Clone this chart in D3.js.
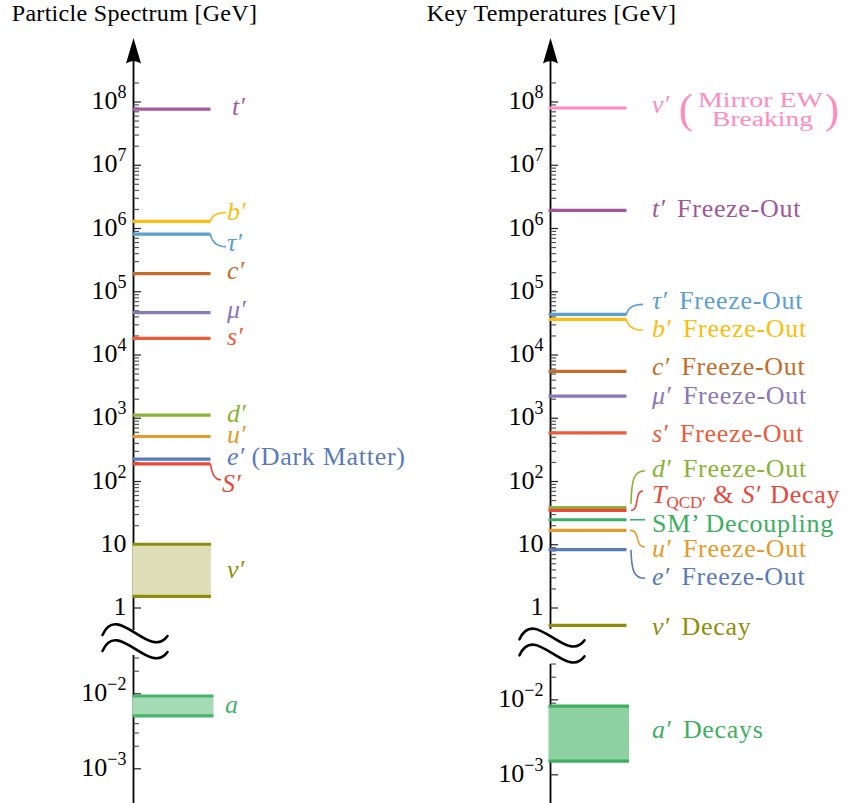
<!DOCTYPE html>
<html>
<head>
<meta charset="utf-8">
<script src="https://cdn.jsdelivr.net/npm/d3@7"></script>
<style>
  html, body { margin: 0; padding: 0; background: #fff; }
  svg { display: block; font-family: "Liberation Serif", "Times New Roman", serif; }
</style>
</head>
<body>
<svg id="chart" width="861" height="803"></svg>
<script>
// ---------------- data ----------------
// Mirror-sector particle spectrum, masses in GeV
const particleKeys   = ["t", "b", "tau", "c", "mu", "s", "d", "u", "e", "S"];
const particleMasses = [7.6e7, 1.27e6, 8.0e5, 1.9e5, 4.6e4, 1.8e4, 1.1e3, 505, 222, 187];
const nuMassRange    = [1.5, 10];        // ν′ mass band
const axionMassRange = [5.0e-3, 9.2e-3]; // a mass band

// Key temperatures in GeV
const eventKeys  = ["vEW", "tFO", "tauFO", "bFO", "cFO", "muFO", "sFO", "dFO", "qcd", "smDec", "uFO", "eFO", "nuDec"];
const eventTemps = [7.9e7, 1.9e6, 4.3e4, 3.6e4, 5.4e3, 2.2e3, 575, 37.8, 34.4, 24.4, 16.6, 8.2, 0.52];
const axionDecayRange = [1.5e-3, 8.1e-3]; // a′ decays band

// Tick labels (mantissa, exponent)
const upperDecades    = [1e8, 1e7, 1e6, 1e5, 1e4, 1e3, 1e2, 10, 1];
const upperTickLabels = [["10", "8"], ["10", "7"], ["10", "6"], ["10", "5"], ["10", "4"], ["10", "3"], ["10", "2"], ["10", ""], ["1", ""]];
const lowerDecades    = [1e-2, 1e-3];
const lowerTickLabels = [["10", "−2"], ["10", "−3"]];

// Label text: [text, style, dx]  (i = math italic, r = roman, sub = subscript)
const particleText = {
  t:   [["t′", "i"]],
  b:   [["b′", "i"]],
  tau: [["τ′", "i"]],
  c:   [["c′", "i"]],
  mu:  [["μ′", "i"]],
  s:   [["s′", "i"]],
  d:   [["d′", "i"]],
  u:   [["u′", "i"]],
  e:   [["e′", "i"], [" (Dark Matter)", "r", 0]],
  S:   [["S′", "i"]]
};
const eventText = {
  vEW:   [["v′", "i"]],
  tFO:   [["t′", "i"], [" Freeze-Out", "r", 5]],
  tauFO: [["τ′", "i"], [" Freeze-Out", "r", 5]],
  bFO:   [["b′", "i"], [" Freeze-Out", "r", 5]],
  cFO:   [["c′", "i"], [" Freeze-Out", "r", 5]],
  muFO:  [["μ′", "i"], [" Freeze-Out", "r", 5]],
  sFO:   [["s′", "i"], [" Freeze-Out", "r", 5]],
  dFO:   [["d′", "i"], [" Freeze-Out", "r", 5]],
  qcd:   [["T", "i"], ["QCD′", "sub", 0], [" & ", "r", 0], ["S′", "i"], [" Decay", "r", 3]],
  smDec: [["SM’ Decoupling", "r"]],
  uFO:   [["u′", "i"], [" Freeze-Out", "r", 5]],
  eFO:   [["e′", "i"], [" Freeze-Out", "r", 5]],
  nuDec: [["ν′", "i"], [" Decay", "r", 5]]
};

// ---------------- styles ----------------
const colors = {
  t: "#a35b9d", b: "#fcbe0c", tau: "#5b9ed0", c: "#c26e28", mu: "#8978b6",
  s: "#ec5b3a", d: "#8ab236", u: "#e69a2a", e: "#5a7bb8", S: "#e8483a",
  nu: "#8e8e0c", nuFill: "#dedfb9", a: "#48b36a", aFill: "#a5dbb4",
  vEW: "#ff8cbf", tFO: "#9e5797", tauFO: "#5b9ed0", bFO: "#fcbe0c", cFO: "#c26e28",
  muFO: "#8978b6", sFO: "#ec5b3a", dFO: "#8ab236", qcd: "#e8483a", smDec: "#3dae62",
  uFO: "#e69a2a", eFO: "#5a7bb8", nuDec: "#8e8e0c", aP: "#3fae60", aPFill: "#8fd2a2"
};

// ---------------- layout ----------------
const W = 861, H = 803;
const leftAxisX = 133.5, rightAxisX = 550.5;
const lineLen = 77;

// label baseline offsets (px from the mark) and optional connector curves
const particleLayout = {
  t:   { dy: 6,   x: 232 },
  b:   { dy: -1,  conn: { kind: "hook", ey: -8 } },
  tau: { dy: 17,  conn: { kind: "hook", ey: -4.5 } },
  c:   { dy: 5.5 },
  mu:  { dy: 5.5 },
  s:   { dy: 6.5 },
  d:   { dy: 7 },
  u:   { dy: 6.5 },
  e:   { dy: 6 },
  S:   { dy: 28, x: 222, conn: { kind: "hook", ey: -12 } }
};
const eventLayout = {
  vEW:   { dy: 5.5 },
  tFO:   { dy: 6.6 },
  tauFO: { dy: -5.4, conn: { kind: "hook", sx: 0, ey: -4.7, ex: 9 } },
  bFO:   { dy: 17.7, conn: { kind: "hook", sx: 0, ey: -7, ex: 9 } },
  cFO:   { dy: 3.6 },
  muFO:  { dy: 7.9 },
  sFO:   { dy: 9.1 },
  dFO:   { dy: -31, conn: { kind: "tall", sx: 4.5, sy: -4, ey: -6, ex: 7 } },
  qcd:   { dy: -7.3, conn: { kind: "s", sx: 4.5, ey: -12, ex: 9 } },
  smDec: { dy: 12, conn: { kind: "line", sx: 3.5, ey: -12, ex: 7 } },
  uFO:   { dy: 26.7, conn: { kind: "s", sx: 3.5, ey: -10, ex: 7 } },
  eFO:   { dy: 35.3, conn: { kind: "tall", sx: 4.5, ey: -6.7, ex: 7 } },
  nuDec: { dy: 9.5 }
};

// ---------------- scales ----------------
const upperY = d3.scaleLog().domain([1, 1e8]).range([607.5, 101.5]);
const lowerYLeft = d3.scaleLog().domain([1e-3, 1e-2]).range([768.3, 693.3]);
const lowerYRight = d3.scaleLog().domain([1e-3, 1e-2]).range([774.3, 699.3]);

const upperMinor = d3.range(0, 8).flatMap(d => d3.range(2, 10).map(k => k * Math.pow(10, d))).concat([2e8]);
const lowerMinor = d3.range(2, 10).map(k => k * 1e-3).concat([2e-2, 3e-2]);

const svg = d3.select("#chart");

// ---------------- helpers ----------------
function drawText(g, x, y, segs, color, size) {
  const t = g.append("text").attr("x", x).attr("y", y)
    .attr("fill", color).attr("font-size", size || 26);
  let shift = 0;
  segs.forEach(([txt, st, dx]) => {
    const ts = t.append("tspan").text(txt);
    let target = 0;
    if (st === "i") ts.attr("font-style", "italic");
    if (st === "r") ts.attr("letter-spacing", 0.7);
    if (st === "sub") { ts.attr("font-size", 17); target = 5; }
    if (target - shift !== 0) ts.attr("dy", target - shift);
    shift = target;
    if (dx) ts.attr("dx", dx);
  });
  return t;
}

function connectorPath(kind, x0, y0, x1, y1) {
  const p = d3.path();
  p.moveTo(x0, y0);
  if (kind === "hook") {
    p.quadraticCurveTo(x0 + 2, y1, x1, y1);
  } else if (kind === "tall") {
    p.bezierCurveTo(x0 + 0.5, y0 + (y1 - y0) * 0.75, x0 + 3, y1, x1, y1);
  } else if (kind === "s") {
    const dx = x1 - x0;
    p.bezierCurveTo(x0 + dx * 0.75, y0, x0 + dx * 0.25, y1, x1, y1);
  } else {
    p.lineTo(x1, y1);
  }
  return p.toString();
}

function squiggle(g, ax, y0) {
  [0, 16].forEach(off => {
    const y = y0 + off;
    const p = d3.path();
    p.moveTo(ax - 31, y);
    p.bezierCurveTo(ax - 16, y - 34, ax + 16, y + 26, ax + 34, y + 1);
    g.append("path").attr("d", p.toString()).attr("fill", "none")
      .attr("stroke", "#000").attr("stroke-width", 2.6).attr("stroke-linecap", "round");
  });
}

function drawAxis(g, cfg) {
  const ax = cfg.x;
  // title
  g.append("text").attr("x", ax + 1).attr("y", 21).attr("text-anchor", "middle")
    .attr("font-size", 24).attr("letter-spacing", 0.3).attr("fill", "#000").text(cfg.title);
  // upper axis with arrow
  g.append("line").attr("x1", ax).attr("x2", ax).attr("y1", 50).attr("y2", cfg.upperEnd)
    .attr("stroke", "#000").attr("stroke-width", 1.8);
  g.append("path")
    .attr("d", `M${ax},38 L${ax + 7.5},63.5 Q${ax},58.5 ${ax - 7.5},63.5 Z`)
    .attr("fill", "#000");
  // lower axis
  g.append("line").attr("x1", ax).attr("x2", ax).attr("y1", cfg.lowerStart).attr("y2", H)
    .attr("stroke", "#000").attr("stroke-width", 1.8);
  squiggle(g, ax, cfg.squiggleY);

  const tickAxis = (scale, values, size, color) => {
    const a = g.append("g").attr("transform", `translate(${ax},0)`)
      .call(d3.axisRight(scale).tickValues(values).tickSize(size).tickFormat(() => ""));
    a.select(".domain").remove();
    a.selectAll(".tick line").attr("stroke", color).attr("stroke-width", 1.2);
  };
  tickAxis(upperY, upperMinor, 5.5, "#555");
  tickAxis(upperY, upperDecades, 7.5, "#222");
  tickAxis(cfg.lower, lowerMinor, 5.5, "#555");
  tickAxis(cfg.lower, lowerDecades, 7.5, "#222");

  const label = (y, [base, sup]) => {
    const t = g.append("text").attr("x", ax - 7).attr("y", y + 7.5)
      .attr("text-anchor", "end").attr("font-size", 26).attr("fill", "#000");
    t.append("tspan").text(base);
    if (sup) t.append("tspan").attr("font-size", 18).attr("dy", -11).text(sup);
  };
  upperDecades.forEach((v, i) => label(upperY(v), upperTickLabels[i]));
  lowerDecades.forEach((v, i) => label(cfg.lower(v), lowerTickLabels[i]));
}

function drawLevel(g, ax, y, color) {
  g.append("line").attr("x1", ax - 1).attr("x2", ax + lineLen).attr("y1", y).attr("y2", y)
    .attr("stroke", color).attr("stroke-width", 3.2);
}

function drawBand(g, ax, width, y0, y1, lineColor, fill) {
  g.append("rect").attr("x", ax - 1).attr("y", Math.min(y0, y1))
    .attr("width", width).attr("height", Math.abs(y1 - y0)).attr("fill", fill);
  [y0, y1].forEach(y => g.append("line").attr("x1", ax - 1).attr("x2", ax - 1 + width)
    .attr("y1", y).attr("y2", y).attr("stroke", lineColor).attr("stroke-width", 3.2));
}

// ---------------- left panel: particle spectrum ----------------
const left = svg.append("g");
drawAxis(left, { x: leftAxisX, title: "Particle Spectrum [GeV]", upperEnd: 630, lowerStart: 655, squiggleY: 635, lower: lowerYLeft });

drawBand(left, leftAxisX, 78.5, upperY(nuMassRange[1]), upperY(nuMassRange[0]), colors.nu, colors.nuFill);
drawBand(left, leftAxisX, 81, lowerYLeft(axionMassRange[1]), lowerYLeft(axionMassRange[0]), colors.a, colors.aFill);

particleKeys.forEach((k, i) => {
  const y = upperY(particleMasses[i]);
  drawLevel(left, leftAxisX, y, colors[k]);
  const lay = particleLayout[k];
  const lx = lay.x || 227;
  const by = y + lay.dy;
  if (lay.conn) {
    left.append("path")
      .attr("d", connectorPath(lay.conn.kind, leftAxisX + lineLen, y, lx - 1, by + lay.conn.ey))
      .attr("fill", "none").attr("stroke", colors[k]).attr("stroke-width", 1.6);
  }
  drawText(left, lx, by, particleText[k], colors[k]);
});
{
  const ny = (upperY(nuMassRange[1]) + upperY(nuMassRange[0])) / 2;
  drawText(left, 227, ny + 7.7, [["ν′", "i"]], colors.nu);
  const ay = (lowerYLeft(axionMassRange[1]) + lowerYLeft(axionMassRange[0])) / 2;
  drawText(left, 225, ay + 7, [["a", "i"]], colors.a);
}

// ---------------- right panel: key temperatures ----------------
const right = svg.append("g");
drawAxis(right, { x: rightAxisX, title: "Key Temperatures [GeV]", upperEnd: 629, lowerStart: 664, squiggleY: 639.3, lower: lowerYRight });

drawBand(right, rightAxisX - 1, 80.5, lowerYRight(axionDecayRange[1]), lowerYRight(axionDecayRange[0]), colors.aP, colors.aPFill);

eventKeys.forEach((k, i) => {
  const y = upperY(eventTemps[i]);
  drawLevel(right, rightAxisX - 1, y, colors[k]);
  const lay = eventLayout[k];
  const lx = 652;
  const by = y + lay.dy;
  if (lay.conn) {
    const c = lay.conn;
    right.append("path")
      .attr("d", connectorPath(c.kind, rightAxisX - 1 + lineLen + (c.sx || 0), y + (c.sy || 0), lx - c.ex, by + c.ey))
      .attr("fill", "none").attr("stroke", colors[k]).attr("stroke-width", 1.6);
  }
  drawText(right, lx, by, eventText[k], colors[k]);
});

// stacked "Mirror EW / Breaking" note in large parentheses
{
  const y = upperY(eventTemps[0]);
  const g = right.append("g").attr("fill", colors.vEW);
  g.append("text").attr("x", 679).attr("y", y + 15).attr("font-size", 42).text("(");
  g.append("text").attr("x", 825).attr("y", y + 15).attr("font-size", 42).text(")");
  g.append("text").attr("x", 698).attr("y", y - 1).attr("font-size", 20)
    .attr("textLength", 125).attr("lengthAdjust", "spacingAndGlyphs").text("Mirror EW");
  g.append("text").attr("x", 712).attr("y", y + 18.5).attr("font-size", 20)
    .attr("textLength", 101).attr("lengthAdjust", "spacingAndGlyphs").text("Breaking");
}
{
  const ay = (lowerYRight(axionDecayRange[1]) + lowerYRight(axionDecayRange[0])) / 2;
  drawText(right, 652, ay + 4.4, [["a′", "i"], [" Decays", "r", 5]], colors.aP);
}
</script>
</body>
</html>
